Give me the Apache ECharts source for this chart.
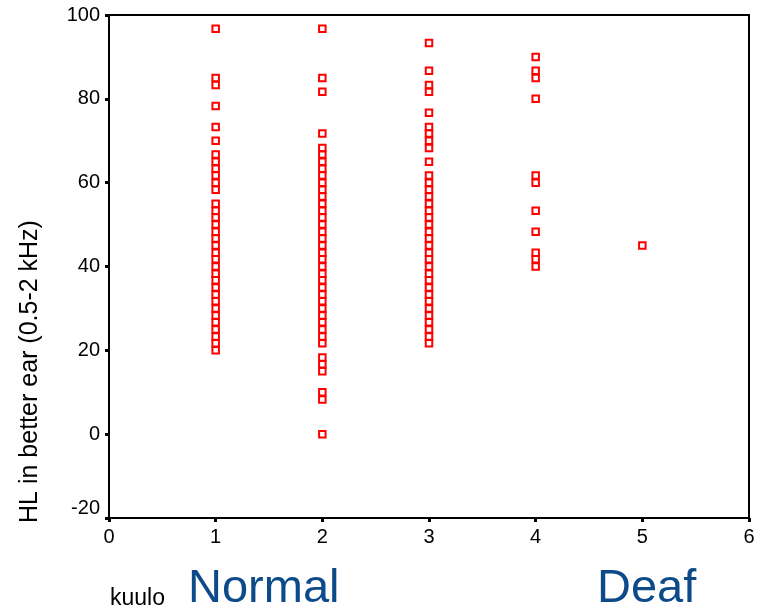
<!DOCTYPE html>
<html>
<head>
<meta charset="utf-8">
<script src="https://cdn.jsdelivr.net/npm/echarts@6/dist/echarts.min.js"></script>
<style>
  html, body { margin: 0; padding: 0; background: #fff; }
  #chart { width: 761px; height: 611px; }
</style>
</head>
<body>
<div id="chart"></div>
<script>
// hearing loss values (dB) per kuulo group
const kuulo1 = [96.7, 85, 83.3, 78.3, 73.3, 70, 66.7, 65, 63.3, 61.7, 60, 58.3,
  55, 53.3, 51.7, 50, 48.3, 46.7, 45, 43.3, 41.7, 40, 38.3, 36.7, 35, 33.3,
  31.7, 30, 28.3, 26.7, 25, 23.3, 21.7, 20]
const kuulo2 = [96.7, 85, 81.7, 71.7, 68.3, 66.7, 65, 63.3, 61.7, 60, 58.3, 56.7,
  55, 53.3, 51.7, 50, 48.3, 46.7, 45, 43.3, 41.7, 40, 38.3, 36.7, 35, 33.3,
  31.7, 30, 28.3, 26.7, 25, 23.3, 21.7, 18.3, 16.7, 15, 10, 8.3, 0]
const kuulo3 = [93.3, 86.7, 83.3, 81.7, 76.7, 73.3, 71.7, 70, 68.3, 65, 61.7, 60,
  58.3, 56.7, 55, 53.3, 51.7, 50, 48.3, 46.7, 45, 43.3, 41.7, 40, 38.3, 36.7,
  35, 33.3, 31.7, 30, 28.3, 26.7, 25, 23.3, 21.7]
const kuulo4 = [90, 86.7, 85, 80, 61.7, 60, 53.3, 48.3, 43.3, 41.7, 40]
const kuulo5 = [45]

const groups = [kuulo1, kuulo2, kuulo3, kuulo4, kuulo5]

const font = 'Liberation Sans, Arial, sans-serif'

let points = []
groups.forEach((vals, i) => {
  vals.forEach(v => points.push([i + 1, v]))
})

const chart = echarts.init(document.getElementById('chart'))
chart.setOption({
  animation: false,
  grid: {
    left: 109,
    right: 12,
    top: 15,
    bottom: 93,
    show: true,
    borderColor: '#000',
    borderWidth: 2
  },
  xAxis: {
    type: 'value',
    min: 0,
    max: 6,
    interval: 1,
    splitLine: { show: false },
    axisLine: { onZero: false, lineStyle: { color: '#000', width: 2 } },
    axisTick: { length: 4, lineStyle: { color: '#000', width: 3 } },
    axisLabel: { color: '#000', fontFamily: font, fontSize: 20, margin: 9 }
  },
  yAxis: {
    type: 'value',
    min: -20,
    max: 100,
    interval: 20,
    name: 'HL in better ear (0.5-2 kHz)',
    nameLocation: 'middle',
    nameRotate: 90,
    nameGap: 66,
    nameTextStyle: {
      color: '#000',
      fontFamily: font,
      fontSize: 25,
      padding: [0, 210, 0, 0]
    },
    splitLine: { show: false },
    axisLine: { onZero: false, lineStyle: { color: '#000', width: 2 } },
    axisTick: { length: 4, lineStyle: { color: '#000', width: 3 } },
    axisLabel: {
      color: '#000',
      fontFamily: font,
      fontSize: 20,
      margin: 9,
      formatter: v => (v === -20 ? '{lo|-20}' : String(v)),
      rich: {
        lo: { fontFamily: font, fontSize: 20, color: '#000', padding: [0, 0, 20, 0] }
      }
    }
  },
  series: [{
    type: 'scatter',
    symbol: 'rect',
    symbolSize: 6.5,
    data: points,
    itemStyle: {
      color: 'rgba(0,0,0,0)',
      borderColor: '#ff0000',
      borderWidth: 2,
      opacity: 1
    }
  }],
  graphic: [
    {
      type: 'text', left: 110, top: 587,
      style: { text: 'kuulo', font: '23px ' + font, fill: '#000' }
    },
    {
      type: 'text', left: 188, top: 566,
      style: { text: 'Normal', font: '47px ' + font, fill: '#0d4a8a' }
    },
    {
      type: 'text', left: 597, top: 566,
      style: { text: 'Deaf', font: '47px ' + font, fill: '#0d4a8a' }
    }
  ]
})
</script>
</body>
</html>
